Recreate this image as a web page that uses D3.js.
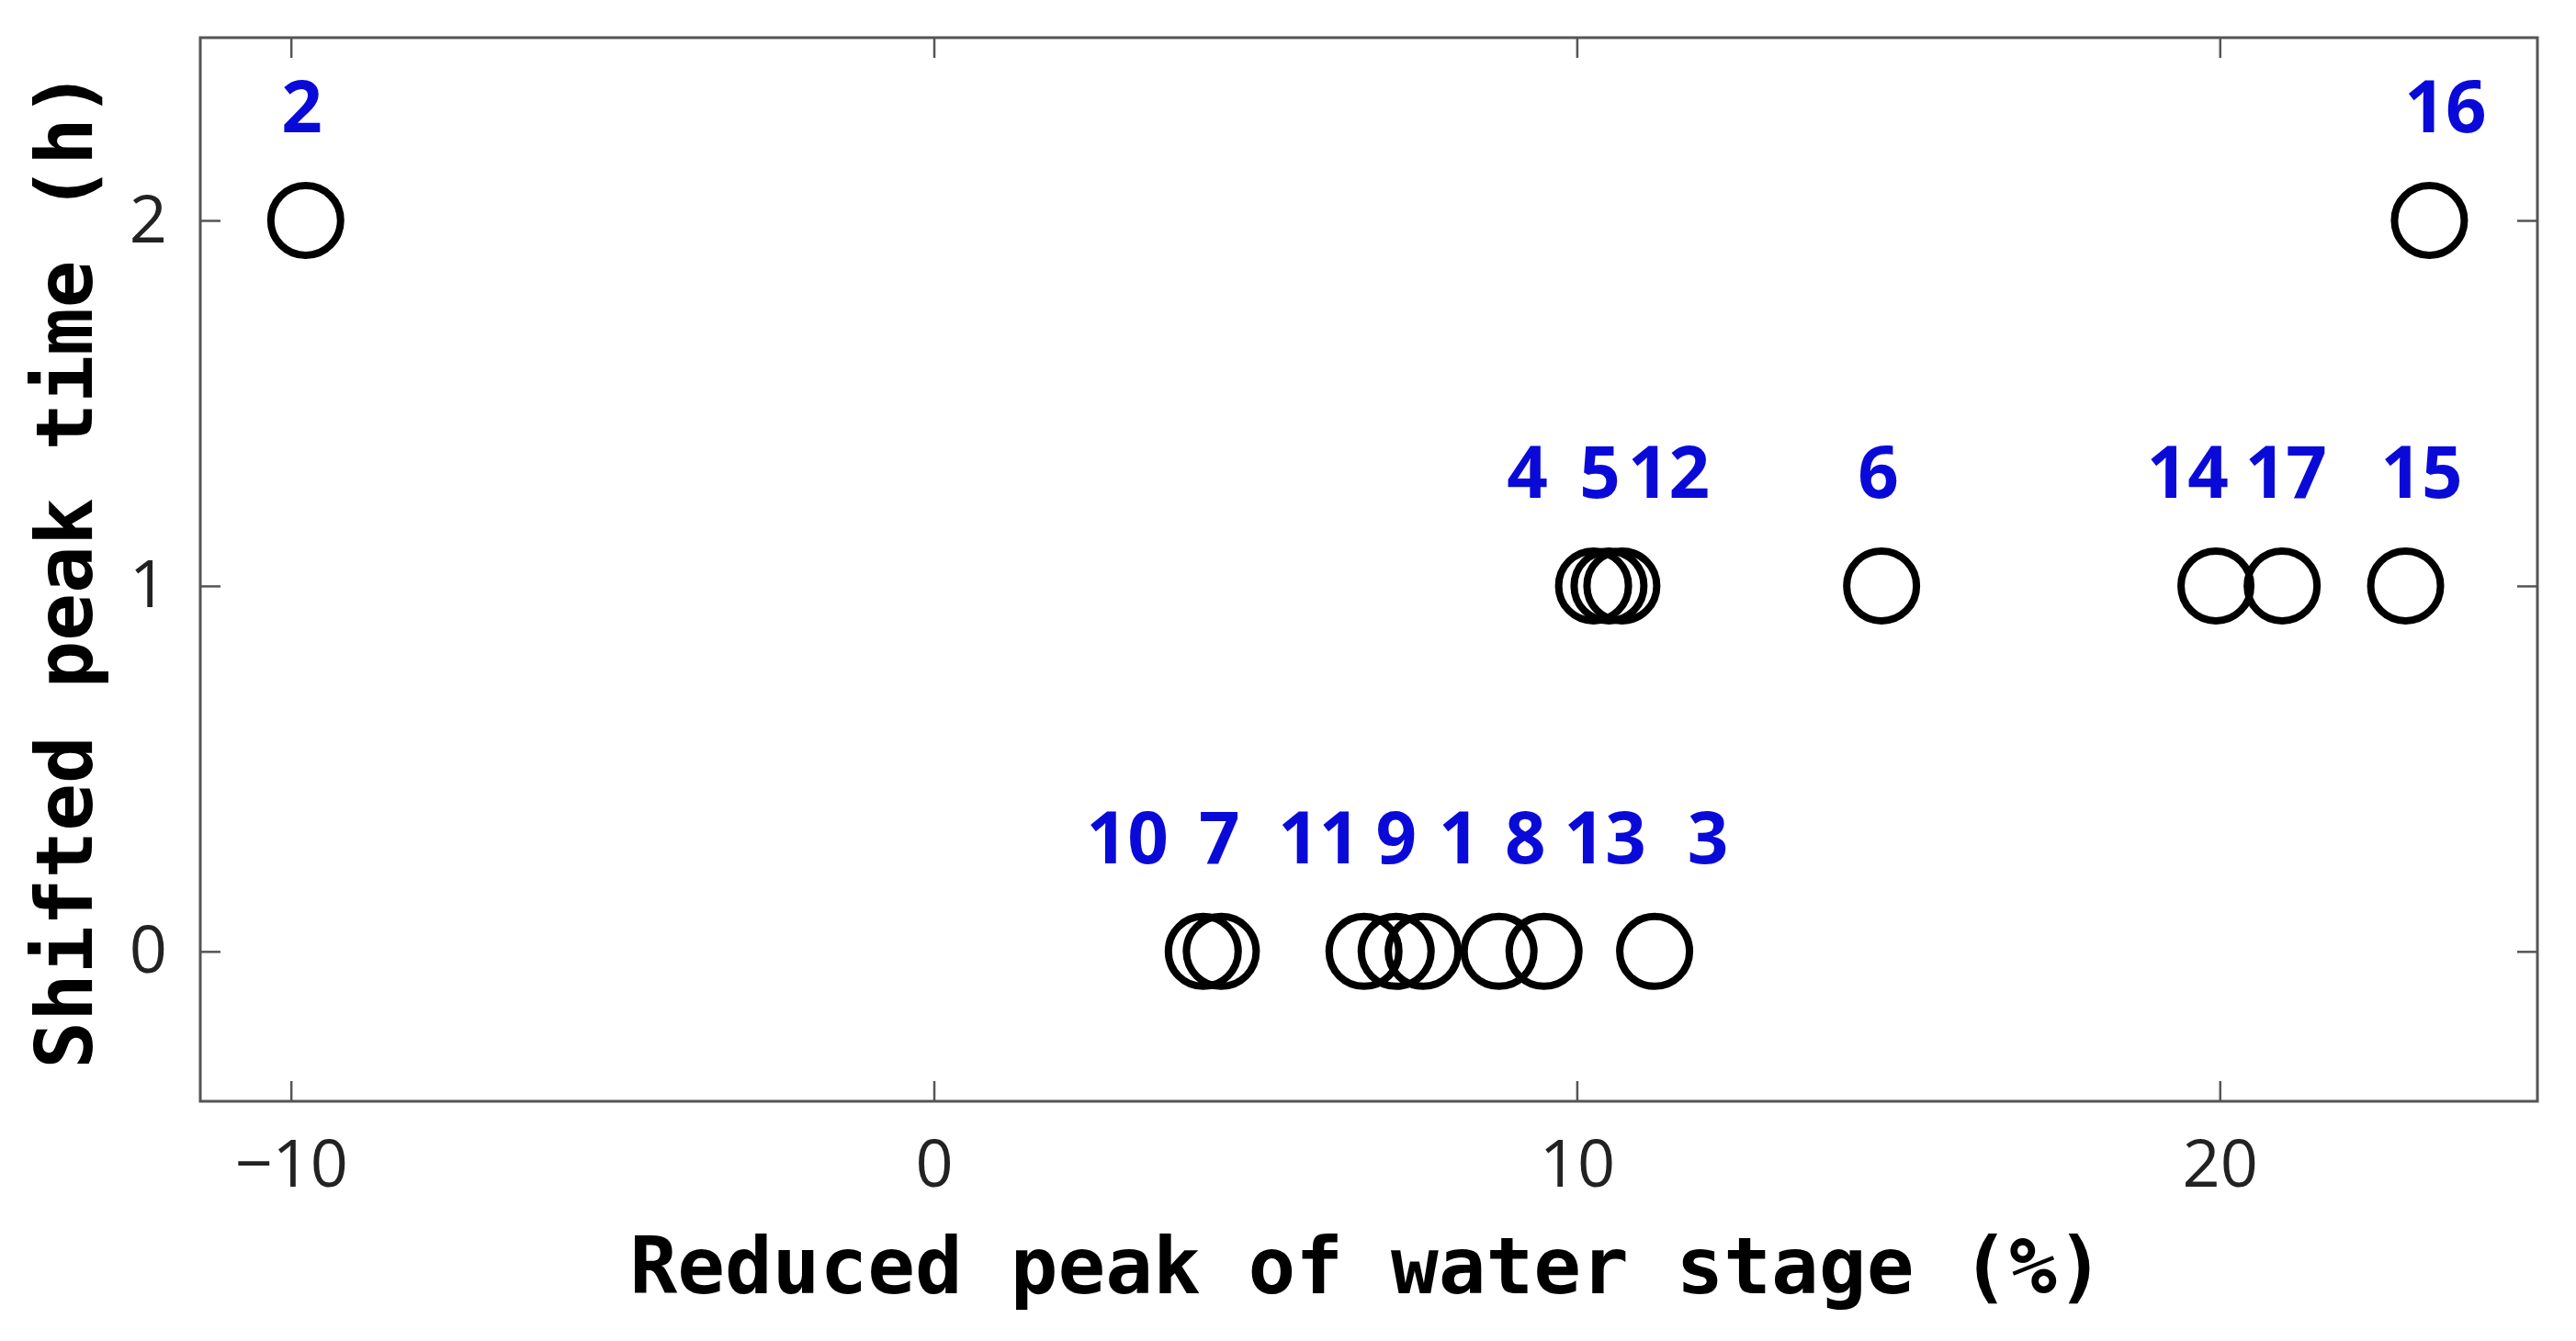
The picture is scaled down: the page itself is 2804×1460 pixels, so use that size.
<!DOCTYPE html>
<html>
<head>
<meta charset="utf-8">
<script src="https://cdn.jsdelivr.net/npm/d3@7"></script>
<style>
  body { margin: 0; background: #fff; }
</style>
</head>
<body>
<svg id="chart" width="2804" height="1460"></svg>
<script>
const ids = [2, 16, 4, 5, 12, 6, 14, 17, 15, 10, 7, 11, 9, 1, 8, 13, 3];
const reducedPeak = [-9.77, 23.26, 10.26, 10.5, 10.7, 14.74, 19.94, 20.97, 22.89, 4.19, 4.47, 6.69, 7.19, 7.61, 8.79, 9.49, 11.21];
const shiftedTime = [2, 2, 1, 1, 1, 1, 1, 1, 1, 0, 0, 0, 0, 0, 0, 0, 0];
const labelX = [-9.83, 23.51, 9.23, 10.36, 11.43, 14.69, 19.5, 21.03, 23.14, 3.01, 4.44, 5.99, 7.19, 8.17, 9.2, 10.44, 12.04];
const xTicks = [-10, 0, 10, 20];
const yTicks = [0, 1, 2];

const svg = d3.select("#chart");
const margin = { left: 218, right: 2762, top: 41, bottom: 1199 };

const x = d3.scaleLinear().domain([-11.41, 24.94]).range([margin.left, margin.right]);
const y = d3.scaleLinear().domain([-0.41, 2.5]).range([margin.bottom, margin.top]);

const tickFont = "'Open Sans', 'Noto Sans', sans-serif";
const tickLen = 22;

function styleAxis(g) {
  g.select(".domain").remove();
  g.selectAll(".tick line").attr("stroke", "#555").attr("stroke-width", 2.5);
  g.selectAll(".tick text").attr("font-family", tickFont).attr("font-size", 72).attr("fill", "#222");
}

svg.append("g")
  .attr("transform", `translate(0,${margin.bottom})`)
  .call(d3.axisBottom(x).tickValues(xTicks).tickSizeInner(-tickLen).tickSizeOuter(0).tickPadding(42).tickFormat(d3.format("d")))
  .call(styleAxis);
svg.append("g")
  .attr("transform", `translate(0,${margin.top})`)
  .call(d3.axisTop(x).tickValues(xTicks).tickSizeInner(-tickLen).tickSizeOuter(0).tickFormat(""))
  .call(styleAxis);
svg.append("g")
  .attr("transform", `translate(${margin.left},0)`)
  .call(d3.axisLeft(y).tickValues(yTicks).tickSizeInner(-tickLen).tickSizeOuter(0).tickPadding(36).tickFormat(d3.format("d")))
  .call(styleAxis);
svg.append("g")
  .attr("transform", `translate(${margin.right},0)`)
  .call(d3.axisRight(y).tickValues(yTicks).tickSizeInner(-tickLen).tickSizeOuter(0).tickFormat(""))
  .call(styleAxis);

svg.append("rect")
  .attr("x", margin.left).attr("y", margin.top)
  .attr("width", margin.right - margin.left).attr("height", margin.bottom - margin.top)
  .attr("fill", "none").attr("stroke", "#555").attr("stroke-width", 3);

const points = ids.map((id, i) => ({ id, xv: reducedPeak[i], yv: shiftedTime[i], lx: labelX[i] }));

svg.append("g").selectAll("circle")
  .data(points).enter().append("circle")
  .attr("cx", (d) => x(d.xv))
  .attr("cy", (d) => y(d.yv))
  .attr("r", 38)
  .attr("fill", "none")
  .attr("stroke", "#000")
  .attr("stroke-width", 8);

svg.append("g").selectAll("text")
  .data(points).enter().append("text")
  .attr("x", (d) => x(d.lx))
  .attr("y", (d) => y(d.yv) - 96)
  .attr("text-anchor", "middle")
  .attr("font-family", tickFont)
  .attr("font-weight", "bold")
  .attr("font-size", 78)
  .attr("fill", "#0a0ad8")
  .text((d) => d.id);

const labelFont = "'DejaVu Sans Mono', 'Liberation Mono', monospace";
svg.append("text")
  .attr("x", 1488)
  .attr("y", 1408)
  .attr("text-anchor", "middle")
  .attr("font-family", labelFont)
  .attr("font-weight", "bold")
  .attr("font-size", 86)
  .attr("fill", "#000")
  .text("Reduced peak of water stage (%)");

svg.append("text")
  .attr("transform", `translate(100,${(margin.top + margin.bottom) / 2}) rotate(-90)`)
  .attr("text-anchor", "middle")
  .attr("font-family", labelFont)
  .attr("font-weight", "bold")
  .attr("font-size", 86)
  .attr("fill", "#000")
  .text("Shifted peak time (h)");
</script>
</body>
</html>
